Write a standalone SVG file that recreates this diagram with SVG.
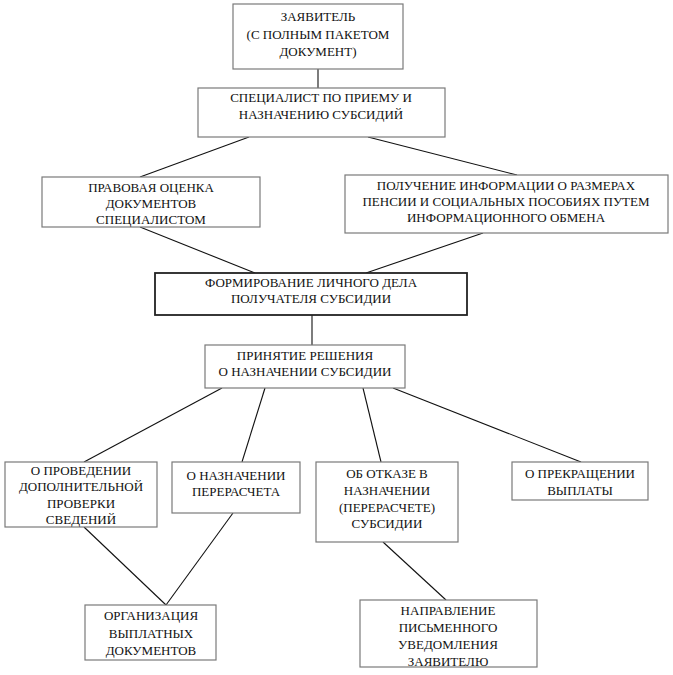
<svg xmlns="http://www.w3.org/2000/svg" width="673" height="675" viewBox="0 0 673 675">
<style>
.box{fill:#fff;stroke:#7a7a7a;stroke-width:1.2}
.bold{fill:#fff;stroke:#222;stroke-width:1.8}
.c line{stroke:#111;stroke-width:1.1}
</style>
<rect width="673" height="675" fill="#fff"/>
<g class="c" id="connectors">
<line x1="318" y1="69" x2="318" y2="88"/>
<line x1="249" y1="137" x2="140" y2="177"/>
<line x1="368" y1="137" x2="517" y2="175"/>
<line x1="140" y1="227" x2="255" y2="273"/>
<line x1="483" y1="233" x2="366" y2="273"/>
<line x1="312" y1="315" x2="312" y2="345"/>
<line x1="222" y1="388" x2="84" y2="462"/>
<line x1="265" y1="388" x2="242" y2="462"/>
<line x1="363" y1="388" x2="381" y2="462"/>
<line x1="393" y1="388" x2="581" y2="462"/>
<line x1="84" y1="527" x2="166" y2="605"/>
<line x1="233" y1="513" x2="166" y2="605"/>
<line x1="383" y1="542" x2="446" y2="600"/>
</g>
<g id="nodes" font-family="Liberation Serif, serif" font-size="13" fill="#111" text-anchor="middle">
<g id="n1"><rect class="box" x="233" y="4" width="170" height="65"/>
<text x="318" y="21">ЗАЯВИТЕЛЬ</text><text x="318" y="39">(С ПОЛНЫМ ПАКЕТОМ</text><text x="318" y="56">ДОКУМЕНТ)</text></g>
<g id="n2"><rect class="box" x="198" y="88" width="247" height="49"/>
<text x="321" y="102">СПЕЦИАЛИСТ ПО ПРИЕМУ И</text><text x="321" y="119">НАЗНАЧЕНИЮ СУБСИДИЙ</text></g>
<g id="n3"><rect class="box" x="42" y="177" width="218" height="50"/>
<text x="151" y="192">ПРАВОВАЯ ОЦЕНКА</text><text x="151" y="208">ДОКУМЕНТОВ</text><text x="151" y="224">СПЕЦИАЛИСТОМ</text></g>
<g id="n4"><rect class="box" x="345" y="175" width="323" height="58"/>
<text x="506" y="190">ПОЛУЧЕНИЕ ИНФОРМАЦИИ О РАЗМЕРАХ</text><text x="506" y="206">ПЕНСИИ И СОЦИАЛЬНЫХ ПОСОБИЯХ ПУТЕМ</text><text x="506" y="222">ИНФОРМАЦИОННОГО ОБМЕНА</text></g>
<g id="n5"><rect class="bold" x="155" y="273" width="312" height="42"/>
<text x="311" y="287">ФОРМИРОВАНИЕ ЛИЧНОГО ДЕЛА</text><text x="311" y="303">ПОЛУЧАТЕЛЯ СУБСИДИИ</text></g>
<g id="n6"><rect class="box" x="205" y="345" width="200" height="43"/>
<text x="305" y="360">ПРИНЯТИЕ РЕШЕНИЯ</text><text x="305" y="376">О НАЗНАЧЕНИИ СУБСИДИИ</text></g>
<g id="n7"><rect class="box" x="5" y="462" width="152" height="65"/>
<text x="81" y="475">О ПРОВЕДЕНИИ</text><text x="81" y="491">ДОПОЛНИТЕЛЬНОЙ</text><text x="81" y="508">ПРОВЕРКИ</text><text x="81" y="524">СВЕДЕНИЙ</text></g>
<g id="n8"><rect class="box" x="172" y="462" width="128" height="51"/>
<text x="236" y="480">О НАЗНАЧЕНИИ</text><text x="236" y="496">ПЕРЕРАСЧЕТА</text></g>
<g id="n9"><rect class="box" x="316" y="462" width="142" height="80"/>
<text x="387" y="478">ОБ ОТКАЗЕ В</text><text x="387" y="495">НАЗНАЧЕНИИ</text><text x="387" y="512">(ПЕРЕРАСЧЕТЕ)</text><text x="387" y="528">СУБСИДИИ</text></g>
<g id="n10"><rect class="box" x="512" y="462" width="136" height="38"/>
<text x="580" y="478">О ПРЕКРАЩЕНИИ</text><text x="580" y="495">ВЫПЛАТЫ</text></g>
<g id="n11"><rect class="box" x="85" y="605" width="131" height="55"/>
<text x="151" y="620">ОРГАНИЗАЦИЯ</text><text x="151" y="638">ВЫПЛАТНЫХ</text><text x="151" y="655">ДОКУМЕНТОВ</text></g>
<g id="n12"><rect class="box" x="360" y="600" width="177" height="67"/>
<text x="448" y="615">НАПРАВЛЕНИЕ</text><text x="448" y="632">ПИСЬМЕННОГО</text><text x="448" y="649">УВЕДОМЛЕНИЯ</text><text x="448" y="666">ЗАЯВИТЕЛЮ</text></g>
</g>
</svg>
